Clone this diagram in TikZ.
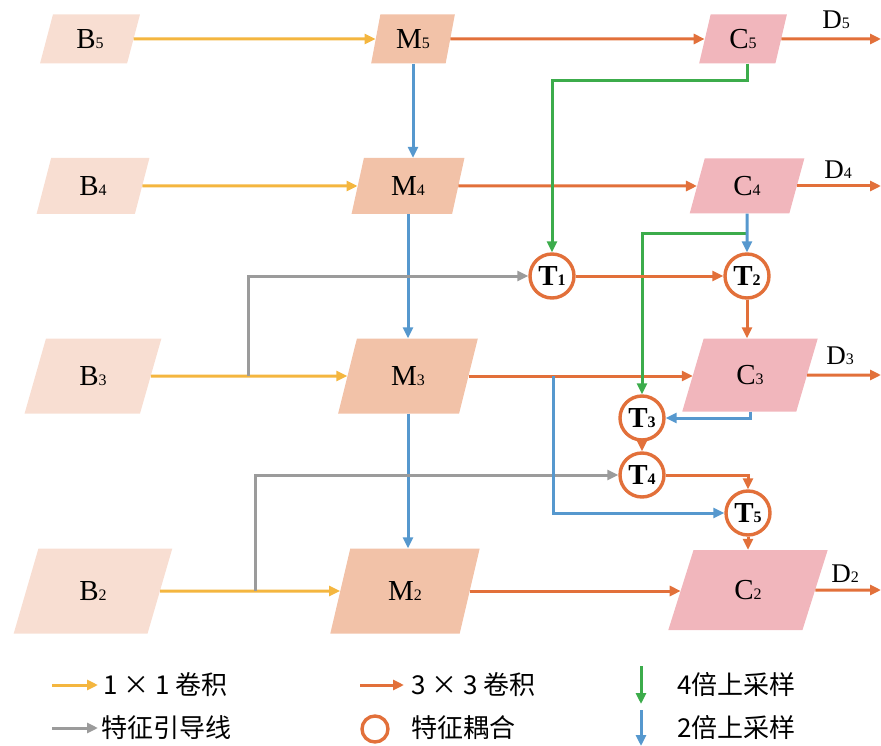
\documentclass[tikz,border=0pt]{standalone}
\usepackage{fontspec}
\setmainfont{Liberation Serif}
\newfontfamily\cjk{Noto Sans CJK SC}
\usetikzlibrary{arrows.meta,shapes.geometric,calc}
\definecolor{bfill}{RGB}{248,222,210}
\definecolor{mfill}{RGB}{242,194,168}
\definecolor{cfill}{RGB}{241,182,188}
\definecolor{cyel}{RGB}{244,182,63}
\definecolor{cora}{RGB}{226,112,58}
\definecolor{cblu}{RGB}{86,152,206}
\definecolor{cgrn}{RGB}{60,172,75}
\definecolor{cgry}{RGB}{155,155,155}
\newcommand\subn[1]{{\fontsize{16}{16}\selectfont #1}}
\newcommand\subb[1]{{\fontsize{16}{16}\selectfont\bfseries #1}}
\begin{document}
\begin{tikzpicture}[x=1pt,y=-1pt,
  para/.style n args={4}{trapezium, trapezium stretches=true,
    trapezium left angle=#4, trapezium right angle={180-#4},
    minimum width=#1, minimum height=#2, inner sep=0pt, fill=#3,
    font=\fontsize{29}{29}\selectfont},
  tnode/.style={circle, draw=cora, line width=3.4pt, fill=white, minimum size=44pt,
    inner sep=0pt, font=\fontsize{29}{29}\selectfont\bfseries},
  ar/.style={line width=3pt, -{Triangle[length=11pt,width=10pt]}},
  yl/.style={ar, cyel}, ol/.style={ar, cora}, bl/.style={ar, cblu},
  gl/.style={ar, cgrn}, gy/.style={ar, cgry},
  dlab/.style={font=\fontsize{27}{27}\selectfont},
  leg/.style={anchor=west, font=\cjk\fontsize{26}{26}\selectfont}]
\useasboundingbox (0,0) rectangle (881,746);
% row 5
\node[para={100}{49}{bfill}{76}] (B5) at (90,39) {B\subn5};
\node[para={84}{49}{mfill}{76}] (M5) at (413,39) {M\subn5};
\node[para={88}{49}{cfill}{76}] (C5) at (743,39) {C\subn5};
% row 4
\node[para={113}{56}{bfill}{76}] (B4) at (93,186) {B\subn4};
\node[para={113}{56}{mfill}{76}] (M4) at (408,186) {M\subn4};
\node[para={115}{55}{cfill}{76}] (C4) at (747,186) {C\subn4};
% row 3
\node[para={137}{75}{bfill}{72}] (B3) at (93,376) {B\subn3};
\node[para={140}{75}{mfill}{72}] (M3) at (408,376) {M\subn3};
\node[para={136}{73}{cfill}{72}] (C3) at (750,375) {C\subn3};
% row 2
\node[para={159}{85}{bfill}{72}] (B2) at (93,591) {B\subn2};
\node[para={150}{85}{mfill}{72}] (M2) at (405,591) {M\subn2};
\node[para={160}{80}{cfill}{72}] (C2) at (748,590) {C\subn2};
% T nodes
\node[tnode] (T1) at (552,276) {T\subb1};
\node[tnode] (T2) at (747,276) {T\subb2};
\node[tnode] (T3) at (642,418) {T\subb3};
\node[tnode] (T4) at (642,475) {T\subb4};
\node[tnode] (T5) at (748,513) {T\subb5};
% D labels
\node[dlab] (D5) at (836,20) {D\subn5};
\node[dlab] (D4) at (838,170) {D\subn4};
\node[dlab] (D3) at (840,356) {D\subn3};
\node[dlab] (D2) at (845,574) {D\subn2};
\coordinate (E5) at (881,39);
\coordinate (E4) at (881,186);
\coordinate (E3) at (881,375);
\coordinate (E2) at (881,590);
% junction points
\coordinate (g1) at (248,376);
\coordinate (g2) at (255,591);
\coordinate (b1) at (553,376);
% yellow
\draw[yl] (B5.east) -- (M5.west);
\draw[yl] (B4.east) -- (M4.west);
\draw[yl] (B3.east) -- (M3.west);
\draw[yl] (B2.east) -- (M2.west);
% orange main
\draw[ol] (M5.east) -- (C5.west);
\draw[ol] (M4.east) -- (C4.west);
\draw[ol] (M3.east) -- (M3.east -| C3.west);
\draw[ol] (M2.east) -- (M2.east -| C2.west);
\draw[ol] (C5.east) -- (E5);
\draw[ol] (C4.east) -- (E4);
\draw[ol] (C3.east) -- (E3);
\draw[ol] (C2.east) -- (E2);
% blue M chain
\draw[bl] (M5.south) -- (M5.south |- M4.north);
\draw[bl] (M4.south) -- (M4.south |- M3.north);
\draw[bl] (M3.south) -- (M3.south |- M2.north);
% gray guides
\draw[gy] (g1) |- (T1.west);
\draw[gy] (g2) |- (T4.west);
% green
\draw[gl] ($(C5.south)+(4,0)$) -- ++(0,17) -| (T1.north);
\draw[gl] ($(C4.south)+(0,20)$) -| (T3.north);
% blue couplings
\draw[bl] (C4.south) -- (T2.north);
\draw[bl] (C3.south) |- (T3.east);
\draw[bl] (b1) |- (T5.west);
% orange couplings
\draw[ol] (T1.east) -- (T2.west);
\draw[ol] (T2.south) -- (T2.south |- C3.north);
\draw[ol] (T3.south) -- (T4.north);
\draw[ol] (T4.east) -| (T5.north);
\draw[ol] (T5.south) -- (T5.south |- C2.north);
% legend
\coordinate (L1a) at (52,685); \coordinate (L1b) at (98,685);
\coordinate (L2a) at (360,685); \coordinate (L2b) at (404,685);
\coordinate (L3a) at (641,666); \coordinate (L3b) at (641,704);
\coordinate (L4a) at (52,728); \coordinate (L4b) at (98,728);
\coordinate (L6a) at (641,710); \coordinate (L6b) at (641,746);
\draw[yl] (L1a) -- (L1b);
\draw[ol] (L2a) -- (L2b);
\draw[gl] (L3a) -- (L3b);
\draw[gy] (L4a) -- (L4b);
\draw[bl] (L6a) -- (L6b);
\node[circle, draw=cora, line width=3.4pt, minimum size=26pt, inner sep=0pt] (Lc) at (375,729) {};
\node[leg] (t1) at (100,685) {1 × 1 卷积};
\node[leg] (t2) at (408,685) {3 × 3 卷积};
\node[leg] (t3) at (674,685) {4倍上采样};
\node[leg] (t4) at (98,728) {特征引导线};
\node[leg] (t5) at (408,728) {特征耦合};
\node[leg] (t6) at (674,728) {2倍上采样};
\end{tikzpicture}
\end{document}
